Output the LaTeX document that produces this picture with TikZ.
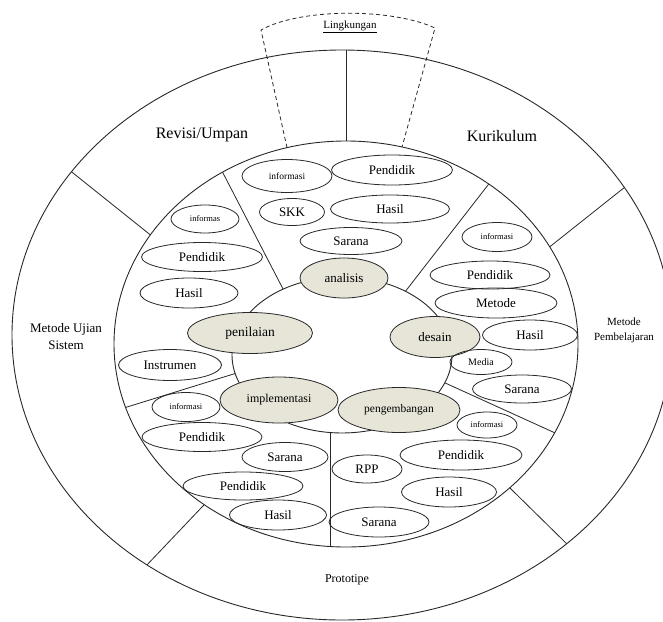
\documentclass[tikz,border=0pt]{standalone}
\usepackage{fontspec}
\setmainfont{Liberation Serif}
\usetikzlibrary{shapes.geometric,calc}
\definecolor{phase}{RGB}{231,229,216}
\definecolor{ink}{RGB}{40,40,40}
\newcommand{\myfs}[2]{\fontsize{#1}{#2}\selectfont}
\begin{document}
\begin{tikzpicture}[x=1pt,y=-1pt,line width=0.8pt,
  item/.style={draw=ink,ellipse,inner sep=0pt,font=\myfs{13}{15},text=black},
  phasebox/.style={item,fill=phase},
  tiny/.style={font=\myfs{8.5}{10}},
  ringline/.style={draw=ink,line width=0.9pt},
  divider/.style={draw=ink,line width=0.8pt},
  lbl/.style={text=black,inner sep=0pt,align=center}]
\useasboundingbox (0,0) rectangle (663,621);
\clip (0,0) rectangle (663,621);

\coordinate (oc) at (342,335);
\coordinate (mc) at (346,344);
\coordinate (ic) at (342,355);

% outer ring dividers
\coordinate (o1a) at (346,50);  \coordinate (o1b) at (346,142);
\coordinate (o2a) at (73,173);  \coordinate (o2b) at (148,233);
\coordinate (o3a) at (625,187); \coordinate (o3b) at (552,245);
\coordinate (o4a) at (145,567); \coordinate (o4b) at (202,507);
\coordinate (o5a) at (570,547); \coordinate (o5b) at (512,490);
\begin{scope}
  \clip (oc) ellipse [x radius=330pt,y radius=285pt];
  \foreach \k in {1,...,5}{
    \draw[divider] ($(o\k a)!-0.3!(o\k b)$) -- ($(o\k a)!1.3!(o\k b)$);
  }
\end{scope}
\fill[white] (mc) ellipse [x radius=232pt,y radius=203pt];

% middle ring dividers
\coordinate (m1a) at (223,173); \coordinate (m1b) at (282,287);
\coordinate (m2a) at (488,185); \coordinate (m2b) at (408,288);
\coordinate (m3a) at (553,432); \coordinate (m3b) at (443,382);
\coordinate (m4a) at (127,407); \coordinate (m4b) at (240,372);
\coordinate (m5a) at (330,432); \coordinate (m5b) at (330,547);
\begin{scope}
  \clip (mc) ellipse [x radius=232pt,y radius=203pt];
  \foreach \k in {1,...,5}{
    \draw[divider] ($(m\k a)!-0.3!(m\k b)$) -- ($(m\k a)!1.3!(m\k b)$);
  }
\end{scope}
\fill[white] (ic) ellipse [x radius=110pt,y radius=78pt];

% rings
\draw[ringline] (oc) ellipse [x radius=330pt,y radius=285pt];
\draw[ringline] (mc) ellipse [x radius=232pt,y radius=203pt];
\draw[ringline] (ic) ellipse [x radius=110pt,y radius=78pt];

% Lingkungan dashed frame
\coordinate (d1) at (287,147.7);
\coordinate (d2) at (261,30);
\coordinate (d3) at (435,28);
\coordinate (d4) at (402,147);
\draw[draw=ink,line width=0.8pt,dash pattern=on 4pt off 3pt]
  (d1) -- (d2) .. controls (300,8) and (392,8) .. (d3) -- (d4);

% phase nodes
\node[phasebox,minimum width=88pt,minimum height=40pt] (analisis) at (344,278) {analisis};
\node[phasebox,minimum width=125pt,minimum height=41pt,font=\myfs{13.5}{15}] (penilaian) at (250,333) {penilaian};
\node[phasebox,minimum width=90pt,minimum height=41pt] (desain) at (435,337) {desain};
\node[phasebox,minimum width=118pt,minimum height=46pt,font=\myfs{12}{14}] (implementasi) at (279,400) {implementasi};
\node[phasebox,minimum width=122pt,minimum height=45pt,font=\myfs{11.5}{13}] (pengembangan) at (399,410) {pengembangan};

% top sector
\node[item,tiny,font=\myfs{9.5}{11},minimum width=90pt,minimum height=33pt] (a1) at (287,176) {informasi};
\node[item,minimum width=121pt,minimum height=30pt] (a2) at (392,170) {Pendidik};
\node[item,minimum width=65pt,minimum height=27pt] (a3) at (292,212) {SKK};
\node[item,minimum width=119pt,minimum height=28pt] (a4) at (390,209) {Hasil};
\node[item,minimum width=102pt,minimum height=27pt] (a5) at (351,241) {Sarana};

% left sector
\node[item,tiny,minimum width=68pt,minimum height=28pt] (p1) at (205,219) {informas};
\node[item,minimum width=121pt,minimum height=29pt] (p2) at (202,257) {Pendidik};
\node[item,minimum width=98pt,minimum height=30pt] (p3) at (189,293) {Hasil};
\node[item,minimum width=103pt,minimum height=31pt] (p4) at (170,365) {Instrumen};

% lower-left sector
\node[item,tiny,minimum width=68pt,minimum height=29pt] (i1) at (186,407) {informasi};
\node[item,minimum width=120pt,minimum height=29pt] (i2) at (202,437) {Pendidik};
\node[item,minimum width=86pt,minimum height=29pt] (i3) at (285,457) {Sarana};
\node[item,minimum width=120pt,minimum height=28pt] (i4) at (243,486) {Pendidik};
\node[item,minimum width=97pt,minimum height=30pt] (i5) at (278,515) {Hasil};

% lower-right sector
\node[item,tiny,minimum width=60pt,minimum height=26pt] (g1) at (487,425) {informasi};
\node[item,minimum width=70pt,minimum height=28pt] (g2) at (367,469) {RPP};
\node[item,minimum width=122pt,minimum height=30pt] (g3) at (461,455) {Pendidik};
\node[item,minimum width=95pt,minimum height=30pt] (g4) at (449,492) {Hasil};
\node[item,minimum width=100pt,minimum height=30pt] (g5) at (379,522) {Sarana};

% right sector
\node[item,tiny,minimum width=70pt,minimum height=29pt] (e1) at (497,237) {informasi};
\node[item,minimum width=120pt,minimum height=28pt] (e2) at (490,275) {Pendidik};
\node[item,minimum width=122pt,minimum height=30pt] (e3) at (496,303) {Metode};
\node[item,minimum width=95pt,minimum height=30pt] (e4) at (530,335) {Hasil};
\node[item,minimum width=62pt,minimum height=25pt,font=\myfs{10}{12}] (e5) at (481,362) {Media};
\node[item,minimum width=99pt,minimum height=28pt] (e6) at (522,389) {Sarana};

% outer labels
\node[lbl,font=\myfs{16}{18}] (revisi) at (202,135) {Revisi/Umpan};
\node[lbl,font=\myfs{16}{18}] (kurikulum) at (502,136) {Kurikulum};
\node[lbl,font=\myfs{13}{17}] (ujian) at (66,337) {Metode Ujian\\Sistem};
\node[lbl,font=\myfs{11}{15}] (pembelajaran) at (624,330) {Metode\\Pembelajaran};
\node[lbl,font=\myfs{12}{14}] (prototipe) at (347,580) {Prototipe};
\node[lbl,font=\myfs{11}{13}] (lingkungan) at (350,27) {\underline{Lingkungan}};
\end{tikzpicture}
\end{document}
